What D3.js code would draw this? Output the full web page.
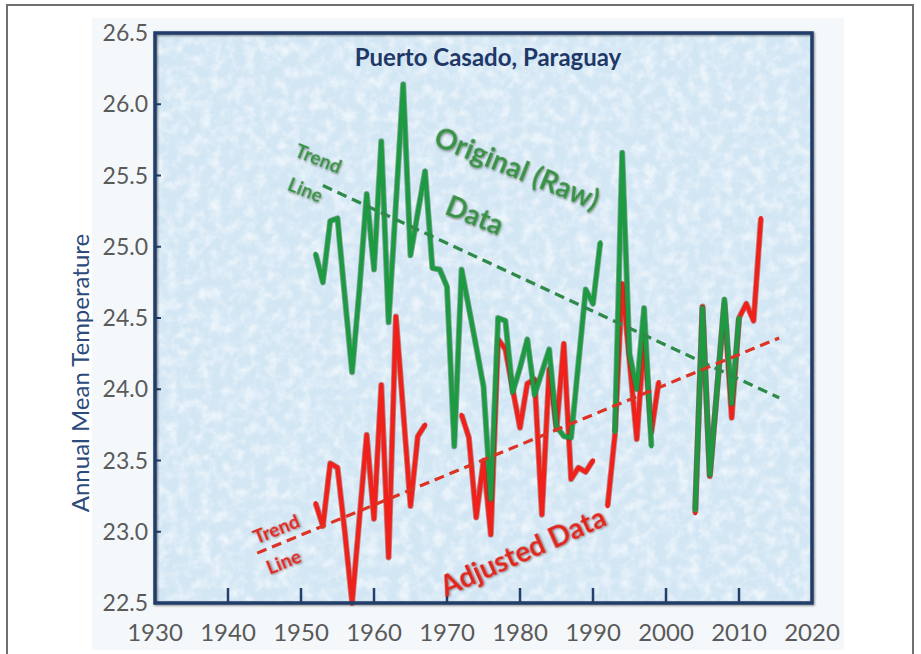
<!DOCTYPE html>
<html>
<head>
<meta charset="utf-8">
<script src="https://cdn.jsdelivr.net/npm/d3@7"></script>
<style>
  body { margin: 0; background: #fff; }
  svg { display: block; font-family: Lato, "Open Sans", sans-serif; }
</style>
</head>
<body>
<div id="chart"></div>
<script>
//Chart data
var years = d3.range(1952, 2014);

var rawTemps = [
  24.95, 24.75, 25.18, 25.2, 24.65, 24.12, 24.7, 25.37, 24.84, 25.74,   // 1952-1961
  24.47, 25.3, 26.14, 24.94, 25.24, 25.53, 24.85, 24.84, 24.72, 23.6,   // 1962-1971
  24.84, 24.57, 24.3, 24.02, 23.23, 24.5, 24.48, 23.98, 24.15, 24.35,   // 1972-1981
  23.96, 24.12, 24.28, 23.74, 23.67, 23.66, 24.18, 24.7, 24.6, 25.03,   // 1982-1991
  null, 23.7, 25.66, 24.25, 24.0, 24.57, 23.6, null, null, null,        // 1992-2001
  null, null, 23.15, 24.57, 23.4, 24.0, 24.63, 23.9, 24.5, null,        // 2002-2011
  null, null                                                            // 2012-2013
];

var adjTemps = [
  23.2, 23.04, 23.48, 23.45, 23.0, 22.5, 23.09, 23.68, 23.09, 24.03,    // 1952-1961
  22.82, 24.51, 23.85, 23.18, 23.67, 23.75, null, null, null, null,     // 1962-1971
  23.82, 23.66, 23.1, 23.5, 22.98, 24.35, 24.28, 24.0, 23.73, 24.04,    // 1972-1981
  24.07, 23.12, 24.14, 23.72, 24.32, 23.37, 23.45, 23.42, 23.5, null,   // 1982-1991
  23.18, 23.68, 24.74, 24.2, 23.65, 24.36, 23.7, 24.05, null, null,     // 1992-2001
  null, null, 23.13, 24.58, 23.39, 24.0, 24.6, 23.8, 24.5, 24.6,        // 2002-2011
  24.48, 25.2                                                           // 2012-2013
];

//Trend line end points [year, temperature]
var rawTrend = [[1953, 25.43], [2015.5, 23.94]];
var adjTrend = [[1944, 22.85], [2015.5, 24.36]];

var xTicks = d3.range(1930, 2021, 10);
var yTicks = d3.range(22.5, 26.51, 0.5);

//Set dimensions
var width = 921,
    height = 654,
    plotL = 155, plotR = 812, plotT = 33, plotB = 603;

var x = d3.scaleLinear().domain([1930, 2020]).range([plotL, plotR]);
var y = d3.scaleLinear().domain([22.5, 26.5]).range([plotB, plotT]);

var svg = d3.select("#chart").append("svg")
    .attr("width", width)
    .attr("height", height);

var defs = svg.append("defs");
var tex = defs.append("filter").attr("id", "tex")
    .attr("x", 0).attr("y", 0).attr("width", 1).attr("height", 1);
tex.append("feTurbulence")
    .attr("type", "fractalNoise")
    .attr("baseFrequency", 0.09)
    .attr("numOctaves", 4)
    .attr("seed", 4);
tex.append("feColorMatrix")
    .attr("type", "matrix")
    .attr("values", "0 0 0 0 1  0 0 0 0 1  0 0 0 0 1  2.2 0 0 0 -0.85");

var glow = defs.append("filter").attr("id", "glow")
    .attr("x", "-20%").attr("y", "-20%").attr("width", "140%").attr("height", "140%");
glow.append("feGaussianBlur").attr("in", "SourceAlpha").attr("stdDeviation", 1.2).attr("result", "b");
glow.append("feOffset").attr("in", "b").attr("dx", 1).attr("dy", 1).attr("result", "o");
glow.append("feComponentTransfer").attr("in", "o").attr("result", "s")
    .append("feFuncA").attr("type", "linear").attr("slope", 0.45);
var gm = glow.append("feMerge");
gm.append("feMergeNode").attr("in", "s");
gm.append("feMergeNode").attr("in", "SourceGraphic");

//Outer border of the picture
svg.append("rect")
    .attr("x", 7).attr("y", 5)
    .attr("width", 906).attr("height", 670)
    .attr("fill", "#fff")
    .attr("stroke", "#6f6f6f")
    .attr("stroke-width", 2);

//Faint backdrop behind axes
svg.append("rect")
    .attr("x", 92).attr("y", 18)
    .attr("width", 752).attr("height", 632)
    .attr("fill", "#f5f8fb");

//Plot background
svg.append("rect")
    .attr("x", plotL).attr("y", plotT)
    .attr("width", plotR - plotL).attr("height", plotB - plotT)
    .attr("fill", "#d2e6f4");
svg.append("rect")
    .attr("x", plotL).attr("y", plotT)
    .attr("width", plotR - plotL).attr("height", plotB - plotT)
    .attr("fill", "#fff")
    .attr("filter", "url(#tex)")
    .attr("opacity", 0.6);

//Title
svg.append("text")
    .attr("x", 488).attr("y", 66)
    .attr("text-anchor", "middle")
    .attr("font-size", 24)
    .attr("font-weight", "bold")
    .attr("fill", "#1f3868")
    .text("Puerto Casado, Paraguay");

//Axis labels
svg.append("g").selectAll("text")
    .data(xTicks)
    .enter().append("text")
    .attr("x", function (d) { return x(d); })
    .attr("y", 641)
    .attr("text-anchor", "middle")
    .attr("font-size", 24)
    .attr("fill", "#5a5a5a")
    .text(function (d) { return d; });

svg.append("g").selectAll("text")
    .data(yTicks)
    .enter().append("text")
    .attr("x", 148)
    .attr("y", function (d) { return y(d); })
    .attr("dy", "0.35em")
    .attr("text-anchor", "end")
    .attr("font-size", 23)
    .attr("fill", "#5a5a5a")
    .text(function (d) { return d.toFixed(1); });

svg.append("text")
    .attr("transform", "translate(89,373) rotate(-90)")
    .attr("text-anchor", "middle")
    .attr("font-size", 24)
    .attr("fill", "#2c4a7c")
    .text("Annual Mean Temperature");

//Tick marks inside the frame
var tickColor = "#23406c";
svg.append("g").selectAll("line")
    .data(xTicks.slice(1, -1))
    .enter().append("line")
    .attr("x1", function (d) { return x(d); })
    .attr("x2", function (d) { return x(d); })
    .attr("y1", plotB).attr("y2", plotB - 15)
    .attr("stroke", tickColor).attr("stroke-width", 2.5);

svg.append("g").selectAll("line")
    .data(yTicks.slice(1, -1))
    .enter().append("line")
    .attr("x1", plotL).attr("x2", plotL + 6)
    .attr("y1", function (d) { return y(d); })
    .attr("y2", function (d) { return y(d); })
    .attr("stroke", tickColor).attr("stroke-width", 2);

//Series lines
var line = d3.line()
    .defined(function (d) { return d[1] != null; })
    .x(function (d) { return x(d[0]); })
    .y(function (d) { return y(d[1]); });

function drawSeries(temps, color, edge) {
  var pts = years.map(function (yr, i) { return [yr, temps[i]]; });
  svg.append("path")
      .attr("d", line(pts))
      .attr("fill", "none")
      .attr("stroke", edge)
      .attr("stroke-width", 6)
      .attr("stroke-opacity", 0.5)
      .attr("stroke-linejoin", "round");
  svg.append("path")
      .attr("d", line(pts))
      .attr("fill", "none")
      .attr("stroke", color)
      .attr("stroke-width", 4.3)
      .attr("stroke-linejoin", "round")
      .attr("stroke-linecap", "round");
}

drawSeries(adjTemps, "#f0201a", "#9c2016");
drawSeries(rawTemps, "#1e9a42", "#24603a");

//Trend lines
function drawTrend(pts, color) {
  svg.append("path")
      .attr("d", d3.line().x(function (d) { return x(d[0]); }).y(function (d) { return y(d[1]); })(pts))
      .attr("fill", "none")
      .attr("stroke", color)
      .attr("stroke-width", 3.2)
      .attr("stroke-dasharray", "10,6");
}
drawTrend(rawTrend, "#2f8a4a");
drawTrend(adjTrend, "#dd3324");

//Frame
svg.append("rect")
    .attr("x", plotL).attr("y", plotT)
    .attr("width", plotR - plotL).attr("height", plotB - plotT)
    .attr("fill", "none")
    .attr("stroke", "#233e6a")
    .attr("stroke-width", 3.5)
    .attr("filter", "url(#glow)");

//Annotations
function note(txt, yr, t, angle, size, color) {
  svg.append("text")
      .attr("transform", "translate(" + x(yr) + "," + y(t) + ") rotate(" + angle + ")")
      .attr("text-anchor", "middle")
      .attr("dy", "0.35em")
      .attr("font-size", size)
      .attr("font-weight", "bold")
      .attr("fill", color)
      .attr("filter", "url(#glow)")
      .text(txt);
}

var green = "#3a9046", red = "#e0281e";
note("Original (Raw)", 1979.6, 25.55, 22, 28, green);
note("Data", 1973.8, 25.22, 22, 28, green);
note("Trend", 1952.4, 25.62, 22, 19, green);
note("Line", 1950.6, 25.4, 22, 19, green);
note("Trend", 1946.6, 23.02, -22, 19, red);
note("Line", 1947.6, 22.79, -22, 19, red);
note("Adjusted Data", 1980.4, 22.86, -24, 28, red);
</script>
</body>
</html>
